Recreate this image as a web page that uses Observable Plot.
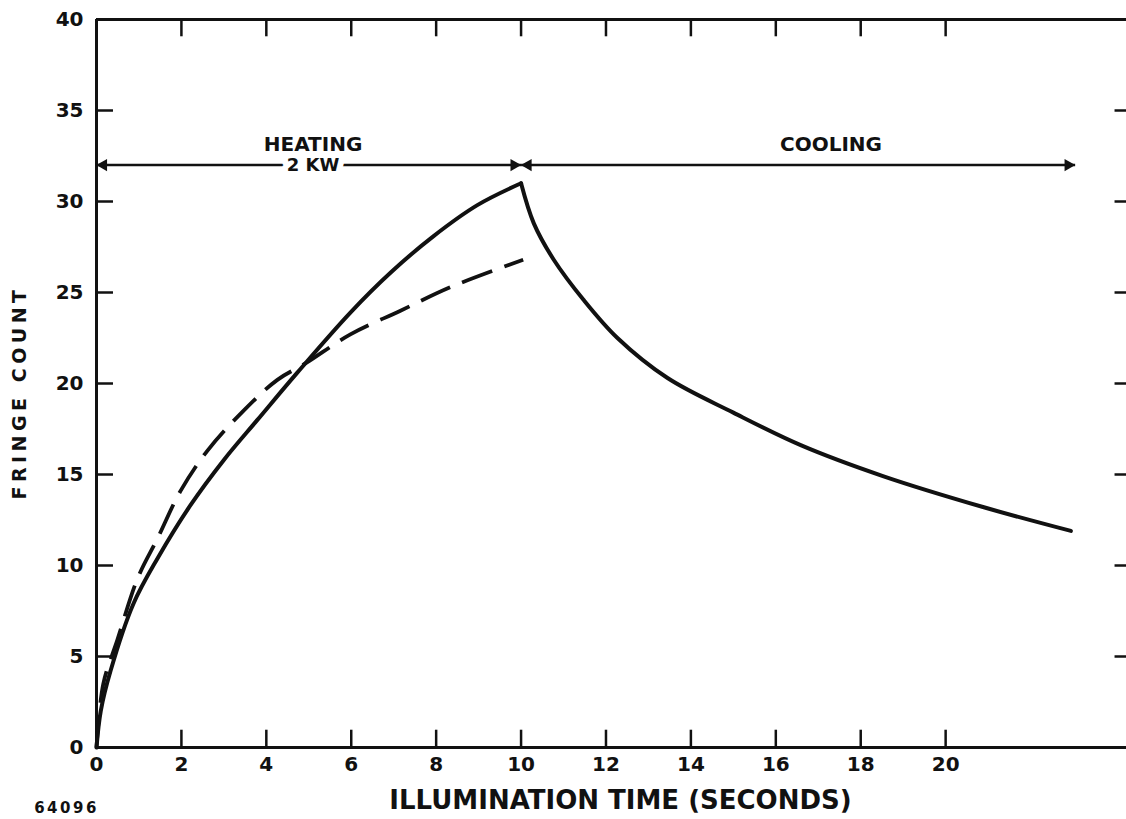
<!DOCTYPE html>
<html><head><meta charset="utf-8">
<script src="https://cdn.jsdelivr.net/npm/d3@7"></script>
<script src="https://cdn.jsdelivr.net/npm/@observablehq/plot@0.6"></script>
<style>
body{margin:0;background:#fff;}
#chart svg{display:block;}
#chart text{font-family:"DejaVu Sans",sans-serif;font-weight:bold;}
</style></head><body><div id="chart"></div>
<script>
// Heating (solid) curve
const heatTime  = [0, 0.1, 0.33, 0.87, 1.44, 2.21, 3.0, 3.79, 4.73, 5.98, 6.93, 7.94, 8.97, 10];
const heatCount = [0, 2.0, 4.2, 7.9, 10.4, 13.3, 15.8, 18.0, 20.6, 23.9, 26.1, 28.1, 29.8, 31.0];
// Cooling (solid) curve
const coolTime  = [10, 10.3, 10.77, 11.47, 12.27, 13.45, 15.0, 16.6, 18.54, 20.9, 22.95];
const coolCount = [31.0, 28.8, 26.8, 24.6, 22.5, 20.3, 18.4, 16.6, 14.9, 13.2, 11.9];
// Dashed curve
const dashTime  = [0, 0.16, 0.49, 0.97, 1.44, 1.98, 2.61, 3.46, 4.26, 4.92, 5.98, 7.16, 8.34, 10.05];
const dashCount = [0, 3.5, 5.9, 9.3, 11.5, 14.1, 16.3, 18.5, 20.2, 21.1, 22.7, 24.0, 25.3, 26.8];

const xTickLabels = [0, 2, 4, 6, 8, 10, 12, 14, 16, 18, 20];
const yTickLabels = [0, 5, 10, 15, 20, 25, 30, 35, 40];
const xInnerTicks = [2, 4, 6, 8, 10, 12, 14, 16, 18, 20];
const yInnerTicks = [5, 10, 15, 20, 25, 30, 35];

// Period annotations (double-headed arrows at fringe count 32)
const periodNames = ["HEATING", "COOLING"];
const periodSub   = ["2 KW", ""];
const periodStart = [0, 10];
const periodEnd   = [10, 23.05];
const periodMid   = [5.1, 17.3];
const arrowLevel  = 32;

const xTitle = "ILLUMINATION TIME (SECONDS)";
const yTitle = "FRINGE COUNT";
const figureId = "64096";

const X_MAX = 24.26;

const heat = heatTime.map((t, i) => ({t, c: heatCount[i]}));
const cool = coolTime.map((t, i) => ({t, c: coolCount[i]}));
const dash = dashTime.map((t, i) => ({t, c: dashCount[i]}));
const periods = periodNames.map((name, i) => ({name, sub: periodSub[i], x1: periodStart[i], x2: periodEnd[i], mid: periodMid[i], y: arrowLevel}));

const ink = "#111";

const chart = Plot.plot({
  width: 1126,
  height: 819,
  marginLeft: 96,
  marginRight: 0,
  marginTop: 19,
  marginBottom: 72,
  style: {fontFamily: "DejaVu Sans", background: "#fff", color: ink},
  x: {domain: [0, X_MAX], axis: null},
  y: {domain: [0, 40], axis: null},
  marks: [
    // frame (left, bottom, top)
    Plot.ruleX([0], {stroke: ink, strokeWidth: 3}),
    Plot.ruleY([0, 40], {stroke: ink, strokeWidth: 3}),
    // inward ticks
    Plot.ruleX(xInnerTicks, {x: d => d, y1: 0, y2: 0.95, stroke: ink, strokeWidth: 2.5}),
    Plot.ruleX(xInnerTicks, {x: d => d, y1: 39.05, y2: 40, stroke: ink, strokeWidth: 2.5}),
    Plot.ruleY(yInnerTicks, {y: d => d, x1: 0, x2: 0.4, stroke: ink, strokeWidth: 2.5}),
    Plot.ruleY(yInnerTicks, {y: d => d, x1: X_MAX - 0.27, x2: X_MAX, stroke: ink, strokeWidth: 2.5}),
    // tick labels
    Plot.text(xTickLabels, {x: d => d, text: d => String(d), frameAnchor: "bottom", dy: 23, fontSize: 20, fontWeight: "bold", fill: ink}),
    Plot.text(yTickLabels, {y: d => d, text: d => String(d), frameAnchor: "left", dx: -13, textAnchor: "end", fontSize: 20, fontWeight: "bold", fill: ink}),
    // axis titles
    Plot.text([xTitle], {frameAnchor: "bottom", dx: 9, dy: 61, fontSize: 26, fontWeight: "bold", fill: ink}),
    Plot.text([yTitle], {frameAnchor: "left", textAnchor: "middle", dx: -77, dy: 9, rotate: -90, fontSize: 19, fontWeight: "bold", fill: ink}),
    Plot.text([figureId], {frameAnchor: "bottom-left", textAnchor: "middle", dx: -30, dy: 65, fontSize: 15, fontWeight: "bold", fill: ink}),
    // period arrows
    Plot.link(periods, {x1: "x1", x2: "x2", y1: "y", y2: "y", stroke: ink, strokeWidth: 2.5}),
    Plot.dot(periods, {x: "x1", y: "y", symbol: "triangle", r: 4.6, rotate: -90, dx: 7, fill: ink, stroke: null}),
    Plot.dot(periods, {x: "x2", y: "y", symbol: "triangle", r: 4.6, rotate: 90, dx: -7, fill: ink, stroke: null}),
    Plot.text(periods.filter(d => d.sub), {x: "mid", y: "y", text: "sub", fontSize: 18, fontWeight: "bold", fill: ink, stroke: "white", strokeWidth: 12, paintOrder: "stroke"}),
    Plot.text(periods, {x: "mid", y: "y", text: "name", dy: -21, fontSize: 20, fontWeight: "bold", fill: ink}),
    // curves
    Plot.line(dash, {x: "t", y: "c", curve: "catmull-rom", stroke: ink, strokeWidth: 3.8, strokeDasharray: "32,13", strokeLinecap: "butt"}),
    Plot.line(heat, {x: "t", y: "c", curve: "catmull-rom", stroke: ink, strokeWidth: 4}),
    Plot.line(cool, {x: "t", y: "c", curve: "catmull-rom", stroke: ink, strokeWidth: 4})
  ]
});
d3.select(chart).selectAll("text")
  .filter(function() { return this.textContent === yTitle; })
  .attr("letter-spacing", 4.5);
d3.select(chart).selectAll("text")
  .filter(function() { return this.textContent === figureId; })
  .attr("letter-spacing", 2.5);
document.getElementById("chart").appendChild(chart);
</script>
</body></html>
